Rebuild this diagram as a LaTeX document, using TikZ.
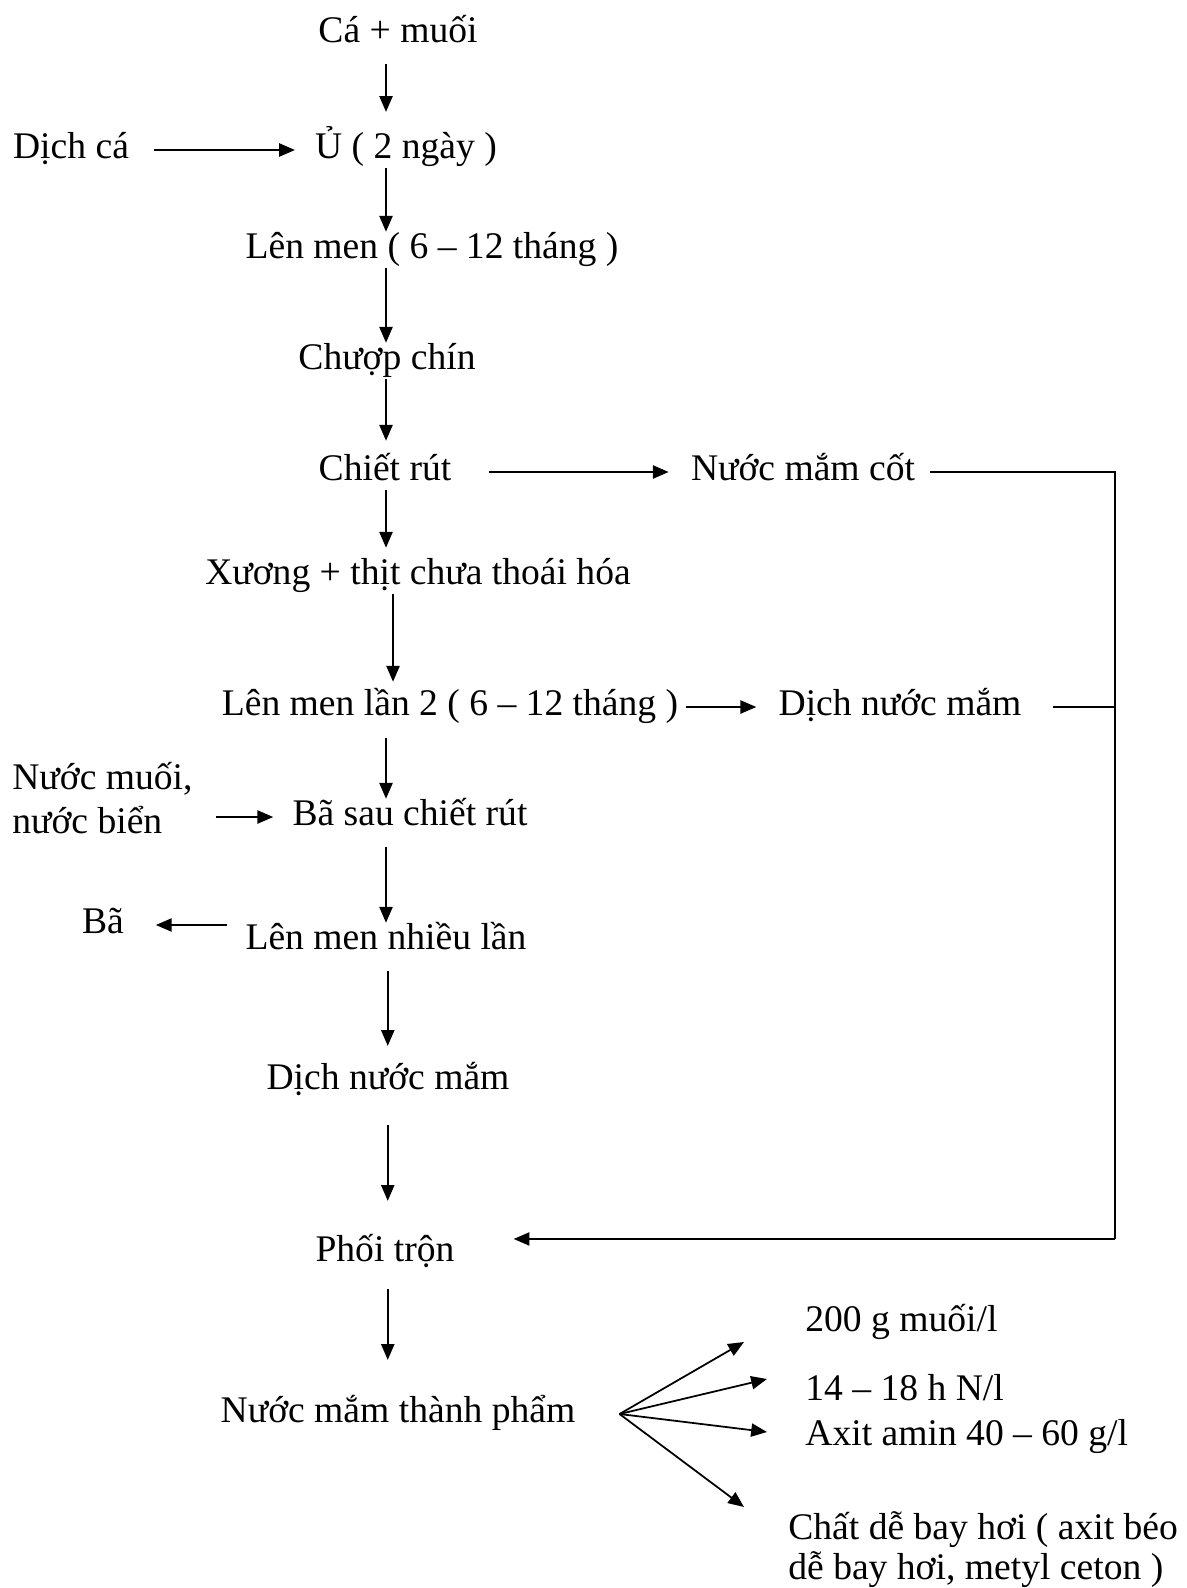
\documentclass[tikz,border=0pt]{standalone}
\usepackage{fontspec}
\setmainfont{Liberation Serif}
\usetikzlibrary{arrows.meta}
\tikzset{
  box/.style={inner sep=0pt, text height=15pt, text depth=5.4pt},
  lst/.style={inner sep=0pt, align=left, anchor=west},
  arr/.style={-{Triangle[length=9pt,width=7.5pt]}, line width=1pt},
  lne/.style={line width=1pt},
}
\begin{document}
\begin{tikzpicture}[x=0.02cm,y=-0.02cm,font=\fontsize{21.4pt}{25.5pt}\selectfont]
\useasboundingbox (0,0) rectangle (1186,1588);
% main column
\node[box] (ca) at (398,34) {Cá + muối};
\node[box] (u) at (406,150) {Ủ ( 2 ngày )};
\node[box] (lm) at (432,250) {Lên men ( 6 -- 12 tháng )};
\node[box] (cp) at (387,361) {Chượp chín};
\node[box] (cr) at (385,472) {Chiết rút};
\node[box] (xt) at (418,576) {Xương + thịt chưa thoái hóa};
\node[box] (lm2) at (450,707) {Lên men lần 2 ( 6 -- 12 tháng )};
\node[box] (bs) at (410,817) {Bã sau chiết rút};
\node[box] (lmnl) at (386,941) {Lên men nhiều lần};
\node[box] (dnm2) at (388,1081) {Dịch nước mắm};
\node[box] (phoi) at (385,1253) {Phối trộn};
\node[box] (tp) at (398,1414) {Nước mắm thành phẩm};
% side nodes
\node[box] (dc) at (71,150) {Dịch cá};
\node[box] (nmc) at (803,472) {Nước mắm cốt};
\node[box] (dnm) at (900,707) {Dịch nước mắm};
\node[lst] (nm) at (12,798) {Nước muối,\\nước biển};
\node[box] (ba) at (103,925) {Bã};
\node[lst,anchor=base west] (q1) at (805,1331) {200 g muối/l};
\node[lst,anchor=base west] (q2) at (805,1445) {14 -- 18 h N/l\\Axit amin 40 -- 60 g/l};
\node[lst,anchor=base west,font=\fontsize{21.4pt}{22.5pt}\selectfont] (q3) at (788,1579) {Chất dễ bay hơi ( axit béo\\dễ bay hơi, metyl ceton )};
\coordinate (sp) at (386,0);
\coordinate (rt) at (1115,0);
\coordinate (fan) at ([xshift=25pt]tp.east);
\coordinate (f1) at (744,1342);
\coordinate (f2) at (767,1379);
\coordinate (f3) at (767,1432);
\coordinate (f4) at (744,1507);
% down arrows
\draw[arr,shorten <=6.8pt,shorten >=11.3pt] (ca.south -| sp) -- (u.north -| sp);
\draw[arr] (u.south -| sp) -- (lm.north -| sp);
\draw[arr] (lm.south -| sp) -- (cp.north -| sp);
\draw[arr,shorten >=7.4pt] (cp.south -| sp) -- (cr.north -| sp);
\draw[arr,shorten >=5.7pt] (cr.south -| sp) -- (xt.north -| sp);
\draw[arr,shorten >=4pt] ([xshift=4pt]xt.south -| sp) -- ([xshift=4pt]lm2.north -| sp);
\draw[arr,shorten <=7.4pt] (lm2.south -| sp) -- (bs.north -| sp);
\draw[arr,shorten <=6.8pt] (bs.south -| sp) -- (lmnl.north -| sp);
\draw[arr,shorten <=6.8pt,shorten >=9.6pt] ([xshift=1pt]lmnl.south -| sp) -- ([xshift=1pt]dnm2.north -| sp);
\draw[arr,shorten <=14.7pt,shorten >=19.3pt] ([xshift=1pt]dnm2.south -| sp) -- ([xshift=1pt]phoi.north -| sp);
\draw[arr,shorten <=10.2pt,shorten >=20.4pt] ([xshift=1pt]phoi.south -| sp) -- ([xshift=1pt]tp.north -| sp);
% side arrows
\draw[arr,shorten <=14.2pt,shorten >=11.3pt] (dc) -- (u);
\draw[arr,shorten <=21pt,shorten >=12.5pt] (cr) -- (nmc);
\draw[arr,shorten <=4.5pt,shorten >=12.5pt] (lm2) -- (dnm);
\draw[arr,shorten <=13pt,shorten >=10.8pt] (nm.east |- bs) -- (bs);
\draw[arr,shorten <=10.2pt,shorten >=18pt] (lmnl.west |- ba) -- (ba);
% return line
\draw[lne,shorten <=8.5pt] (nmc.east) -- (nmc -| rt) -- ([yshift=8pt]phoi -| rt);
\draw[arr,shorten >=33.5pt] ([yshift=8pt]phoi -| rt) -- ([yshift=8pt]phoi.east);
\draw[lne,shorten <=18pt] (dnm.east) -- (dnm -| rt);
% products
\foreach \t in {f1,f2,f3,f4}
  \draw[arr] (fan) -- (\t);
\end{tikzpicture}
\end{document}
